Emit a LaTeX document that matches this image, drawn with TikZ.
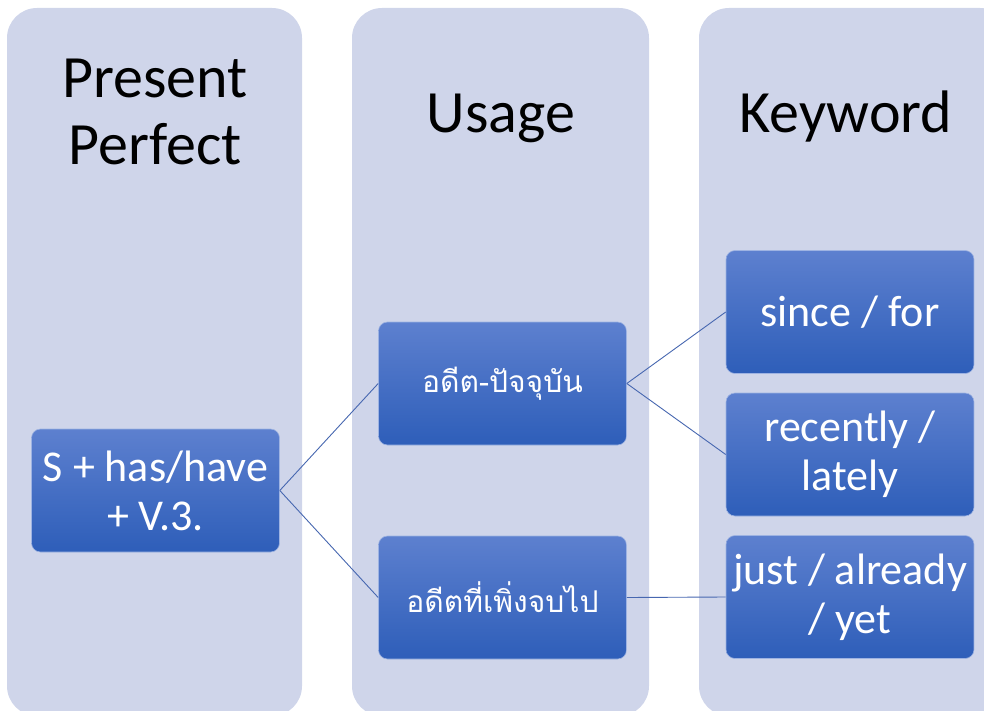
\documentclass[tikz,border=0pt]{standalone}
\usepackage{fontspec}
\setmainfont{Carlito}
\newfontfamily\thaifont[Script=Thai]{Loma}
\definecolor{panelc}{HTML}{CFD5EA}
\definecolor{boxtop}{HTML}{5D80CF}
\definecolor{boxbot}{HTML}{2E5EB9}
\definecolor{linec}{HTML}{4767B0}
\begin{document}
\begin{tikzpicture}[x=1pt,y=-1pt,
  panel/.style={fill=panelc,rounded corners=30pt},
  title/.style={font=\fontsize{60}{67}\selectfont,text=black,align=center,inner sep=0pt},
  bluebox/.style={rounded corners=9pt,top color=boxtop,bottom color=boxbot,draw=boxtop!60!white,line width=0.6pt,text=white,align=center,inner sep=0pt,minimum width=248pt,minimum height=123pt,font=\fontsize{44}{49}\selectfont},
  thaibox/.style={bluebox,font=\thaifont\fontsize{30}{36}\selectfont},
  conn/.style={draw=linec,line width=0.9pt}]
\useasboundingbox (0,0) rectangle (984,711);
\begin{scope}
\clip (0,0) rectangle (984,711);
\fill[panel] (7,8) rectangle (302,716);
\fill[panel] (352,8) rectangle (649,716);
\fill[panel] (699,8) rectangle (1010,716);
\end{scope}
\node[title,anchor=base] (t1) at (155,165) {Present\\Perfect};
\node[title,anchor=base] (t2) at (501,133) {Usage};
\node[title,anchor=base] (t3) at (846,133) {Keyword};
\node[bluebox] (s) at (155.5,490.5) {S + has/have\\+ V.3.};
\node[thaibox] (u1) at (502.5,383.5) {อดีต-ปัจจุบัน};
\node[thaibox] (u2) at (502.5,597.5) {อดีตที่เพิ่งจบไป};
\node[bluebox] (k1) at (850,312) {since / for};
\node[bluebox] (k2) at (850,454.5) {recently /\\lately};
\node[bluebox] (k3) at (850,597) {just / already\\/ yet};
\draw[conn] (s.east) -- (u1.west);
\draw[conn] (s.east) -- (u2.west);
\draw[conn] (u1.east) -- (k1.west);
\draw[conn] (u1.east) -- (k2.west);
\draw[conn] (u2.east) -- (k3.west);
\end{tikzpicture}
\end{document}
